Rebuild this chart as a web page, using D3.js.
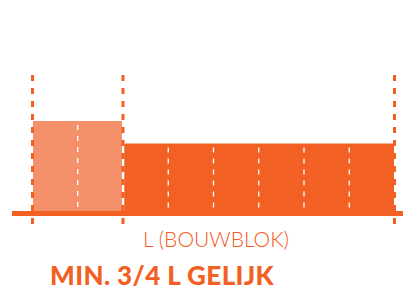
<!DOCTYPE html>
<html>
<head>
<meta charset="utf-8">
<script src="https://cdn.jsdelivr.net/npm/d3@7"></script>
<style>
  html, body { margin: 0; padding: 0; background: #fff; }
  svg { display: block; }
</style>
</head>
<body>
<svg id="chart" width="403" height="289"></svg>
<script>
// segments of the bouwblok, in units of 1/8 L
var segments = [0, 1, 2, 3, 4, 5, 6, 7];
var segHeights = [4, 4, 3, 3, 3, 3, 3, 3];
var segGroup = ['vrij', 'vrij', 'gelijk', 'gelijk', 'gelijk', 'gelijk', 'gelijk', 'gelijk'];
var markers = [0, 2, 8];          // dashed boundaries
var dividers = [1, 3, 4, 5, 6, 7]; // white dashed lines inside the bars
var axisLabel = 'L (BOUWBLOK)';
var title = 'MIN. 3/4 L GELIJK';

var dark = '#f26023',
  light = '#f4906a';

var svg = d3.select('#chart');

var x = d3.scaleLinear().domain([0, 8]).range([32.5, 394.5]);
var y = d3.scaleLinear().domain([0, 4]).range([211, 121]);

// bars, drawn as blocks per group
var groups = d3.groups(segments, function(d, i){ return segGroup[i]; });
groups.forEach(function(g){
  var first = g[1][0], last = g[1][g[1].length - 1];
  var h = segHeights[first];
  var x0 = x(first) + (first === 0 ? 0.5 : 1.3);
  var x1 = x(last + 1) - (last === 1 ? 1 : 0.5);
  svg.append('rect')
    .attr('x', x0)
    .attr('y', y(h))
    .attr('width', x1 - x0)
    .attr('height', y(0) - y(h))
    .attr('fill', g[0] === 'vrij' ? light : dark);
});

// baseline
svg.append('rect')
  .attr('x', 12)
  .attr('y', y(0))
  .attr('width', 391)
  .attr('height', 5)
  .attr('fill', dark);

// white dividers
svg.selectAll('line.div')
  .data(dividers)
  .enter()
  .append('line')
  .attr('class', 'div')
  .attr('x1', function(d){ return x(d); })
  .attr('x2', function(d){ return x(d); })
  .attr('y1', function(d){ return y(segHeights[d]) + 4; })
  .attr('y2', y(0) - 3)
  .attr('stroke', '#fff')
  .attr('stroke-width', 1.3)
  .attr('stroke-dasharray', '5,6');

// dashed boundaries
svg.selectAll('line.mark')
  .data(markers)
  .enter()
  .append('line')
  .attr('class', 'mark')
  .attr('x1', function(d){ return x(d); })
  .attr('x2', function(d){ return x(d); })
  .attr('y1', 75)
  .attr('y2', 224)
  .attr('stroke', dark)
  .attr('stroke-width', 3)
  .attr('stroke-dasharray', '6,7');

svg.append('text')
  .attr('x', 216)
  .attr('y', 247)
  .attr('text-anchor', 'middle')
  .attr('font-family', 'Lato')
  .attr('font-weight', 300)
  .attr('font-size', 21)
  .attr('fill', dark)
  .text(axisLabel);

svg.append('text')
  .attr('x', 50)
  .attr('y', 284.5)
  .attr('font-family', 'Lato')
  .attr('font-weight', 900)
  .attr('font-size', 26)
  .attr('letter-spacing', 0.4)
  .attr('fill', dark)
  .text(title);
</script>
</body>
</html>
